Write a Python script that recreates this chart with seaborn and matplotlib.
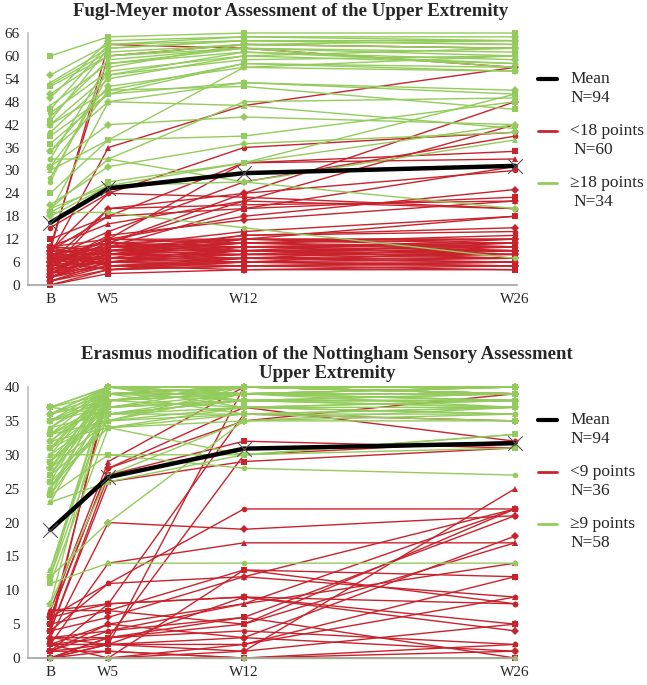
import matplotlib
matplotlib.use("Agg")
import matplotlib.pyplot as plt
from matplotlib.lines import Line2D
import pandas as pd
import seaborn as sns

# ----------------------------------------------------
# Data
# ----------------------------------------------------
TIMEPOINTS = ["B", "W5", "W12", "W26"]
WEEKS = [2, 5, 12, 26]

# Fugl-Meyer (0-66)
FM_MEAN = [16.3, 25.3, 29.3, 31.2]
FM_RED = [  # <18 points at baseline, N=60
    [10, 60, 63, 62], [9, 63, 62, 57], [8, 36, 47, 57], [15, 24, 36, 40],
    [9, 18, 32, 35], [6, 20, 24, 48], [10, 16, 22, 42], [7, 14, 27, 39],
    [12, 18, 20, 23], [6, 12, 18, 25], [4, 20, 21, 22], [9, 24, 23, 20],
    [3, 10, 14, 18], [2, 8, 13, 15], [5, 12, 32, 33], [8, 11, 24, 30],
    [7, 10, 20, 31], [5, 13, 17, 22], [4, 9, 12, 18], [3, 11, 22, 20],
    [0, 3, 4, 4], [1, 4, 5, 5], [2, 5, 5, 6], [3, 5, 6, 6],
    [4, 6, 6, 7], [5, 6, 7, 7], [6, 7, 7, 8], [7, 7, 8, 8],
    [8, 8, 8, 9], [9, 8, 9, 9], [10, 9, 9, 10], [2, 9, 10, 10],
    [3, 10, 10, 11], [4, 10, 11, 12], [5, 11, 12, 12], [6, 12, 11, 13],
    [7, 4, 5, 4], [8, 5, 4, 5], [9, 5, 6, 5], [10, 6, 5, 6],
    [1, 6, 8, 7], [2, 7, 6, 9], [3, 7, 9, 8], [4, 8, 7, 10],
    [5, 8, 10, 9], [6, 9, 8, 11], [7, 9, 11, 10], [8, 10, 9, 12],
    [9, 11, 10, 11], [10, 12, 12, 12], [0, 4, 6, 5], [1, 5, 7, 6],
    [2, 6, 9, 7], [3, 8, 11, 9], [4, 10, 12, 11], [5, 11, 9, 8],
    [6, 4, 7, 6], [7, 6, 10, 8], [8, 7, 12, 10], [9, 9, 13, 14],
]
FM_GREEN = [  # >=18 points at baseline, N=34
    [60, 65, 66, 66], [55, 63, 65, 64], [53, 62, 64, 63], [52.5, 61, 63, 62],
    [52, 60, 62, 61], [49, 64, 65, 65], [47, 58, 62, 60], [45, 56, 60, 58],
    [43, 62, 64, 63], [42, 55, 61, 59], [42, 51, 58, 57], [40, 54, 60, 62],
    [39, 50, 53, 50], [35, 52, 57, 56], [35, 48, 47, 41], [33, 33, 48, 49],
    [31, 51, 52, 46], [31, 42, 44, 42], [30, 38, 57, 60], [27, 57, 63, 64],
    [24, 38, 39, 48], [21, 31, 37, 40], [20, 33, 27, 38], [19, 19, 15, 7],
    [19, 27, 32, 50], [19, 48, 53, 51], [20, 26, 32, 42], [33, 58, 61, 58],
    [46, 63, 64, 64], [50, 60, 63, 62], [44, 59, 62, 57], [28, 55, 59, 60],
    [37, 50, 58, 56], [18, 26, 27, 20],
]

# Erasmus modified NSA (0-40)
EM_MEAN = [18.9, 26.7, 30.9, 31.7]
EM_RED = [  # <9 points at baseline, N=36
    [4, 40, 40, 40], [5, 39, 40, 39], [7, 29, 40, 40], [6, 28, 37, 32],
    [4, 27, 32, 31], [3, 20, 19, 21], [2, 14, 17, 17], [6, 11, 22, 22],
    [0, 2, 40, 39], [1, 8, 36, 35], [0, 3, 30, 32], [7, 8, 9, 8],
    [5, 7, 13, 12], [4, 6, 12, 22], [2, 5, 8, 22], [1, 4, 6, 21],
    [0, 3, 5, 22], [3, 2, 3, 18], [2, 0, 1, 25], [0, 0, 2, 9],
    [6, 8, 9, 5], [1, 2, 9, 4], [0, 1, 0, 2], [0, 0, 0, 1],
    [2, 3, 6, 0], [1, 5, 3, 1], [3, 4, 8, 14], [0, 2, 2, 12],
    [4, 26, 29, 31], [6, 28, 35, 39], [7, 7, 5, 17], [0, 0, 13, 8],
    [1, 1, 0, 0], [2, 2, 1, 5], [4, 11, 12, 9], [3, 3, 4, 2],
]
EM_GREEN = [  # >=9 points at baseline, N=58
    [37, 40, 40, 40], [37, 39, 40, 40], [36, 40, 40, 39], [36, 38, 39, 40],
    [35, 40, 39, 39], [35, 37, 38, 38], [34, 39, 40, 39], [34, 36, 38, 37],
    [33, 40, 39, 40], [33, 35, 37, 38], [32, 38, 40, 39], [32, 34, 36, 36],
    [31, 40, 38, 37], [31, 37, 39, 38], [30, 36, 37, 36], [30, 30, 28, 27],
    [29, 39, 40, 40], [28, 40, 38, 39], [28, 35, 39, 38], [27, 38, 37, 37],
    [27, 34, 35, 35], [26, 40, 40, 40], [25, 37, 38, 38], [25, 39, 39, 39],
    [24, 36, 36, 37], [24, 40, 40, 39], [23, 26, 30, 33], [23, 38, 40, 40],
    [37, 36, 39, 40], [36, 39, 38, 38], [35, 38, 40, 40], [34, 40, 37, 36],
    [33, 37, 38, 39], [32, 39, 39, 40], [31, 35, 36, 37], [30, 40, 40, 40],
    [29, 37, 40, 39], [28, 38, 39, 37], [13, 40, 40, 40], [13, 38, 39, 39],
    [12, 40, 39, 40], [12, 20, 35, 37], [12, 36, 38, 38], [11, 14, 14, 14],
    [11, 34, 37, 38], [8, 40, 40, 39], [8, 27, 35, 36], [0, 0, 0, 0],
    [26, 34, 30, 31], [37, 40, 39, 38], [35, 39, 36, 35], [33, 38, 40, 40],
    [31, 39, 39, 39], [29, 36, 38, 38], [27, 40, 40, 40], [25, 35, 40, 40],
    [24, 30, 30, 33], [36, 40, 40, 40],
]

RED = "#C8232C"
GREEN = "#93CC5C"
MARKERS = {"s": "s", "D": "D", "^": "^", "o": "o"}


def to_long(rows, group):
    keys = list(MARKERS)
    recs = []
    for i, r in enumerate(rows):
        for w, v in zip(WEEKS, r):
            recs.append({"subject": f"{group}{i}", "week": w, "score": v,
                         "mk": keys[i % len(keys)]})
    return pd.DataFrame(recs)


def draw_panel(ax, red, green, mean, ymax, ystep):
    for rows, name, col in [(red, "red", RED), (green, "green", GREEN)]:
        sns.lineplot(data=to_long(rows, name), x="week", y="score",
                     units="subject", estimator=None, style="mk",
                     markers=MARKERS, dashes=False, color=col, lw=1.0,
                     markersize=4.0, markeredgewidth=0, legend=False,
                     ax=ax, clip_on=False)
    mdf = pd.DataFrame({"week": WEEKS, "score": mean})
    sns.lineplot(data=mdf, x="week", y="score", color="black", lw=3.2,
                 ax=ax, legend=False, zorder=5, clip_on=False)
    ax.scatter(WEEKS, mean, marker="x", s=110, color="#555555",
               linewidths=0.8, zorder=6, clip_on=False)

    ax.set_xlim(0.85, 26.1)
    ax.set_ylim(0, ymax)
    ax.set_xticks(WEEKS, TIMEPOINTS)
    ax.set_yticks(range(0, ymax + 1, ystep))
    ax.set_xlabel("")
    ax.set_ylabel("")
    for s in ["top", "right"]:
        ax.spines[s].set_visible(False)
    ax.spines["left"].set_color("#BFBFBF")
    ax.spines["bottom"].set_color("#A6A6A6")
    ax.tick_params(axis="y", length=4, color="#BFBFBF", labelsize=11, pad=2)
    ax.tick_params(axis="x", length=0, labelsize=11, pad=6)


def legend_block(fig, entries, y0):
    # entries: (color, lw, line1, line2, indent)
    W, H = 647, 685
    y = y0
    for col, lw, l1, l2, ind in entries:
        fig.add_artist(Line2D([538 / W, 557 / W], [1 - y / H, 1 - y / H],
                              color=col, lw=lw))
        fig.text(570 / W, 1 - y / H, l1, ha="left", va="center", fontsize=12.5)
        fig.text((570 + ind) / W, 1 - (y + 19) / H, l2, ha="left", va="center",
                 fontsize=12.5)
        y += 52


def main():
    sns.set_theme(style="white")
    plt.rcParams["font.family"] = ["Liberation Serif", "DejaVu Serif"]

    fig = plt.figure(figsize=(6.47, 6.85), dpi=100)
    W, H = 647, 685

    ax1 = fig.add_axes([28 / W, 1 - 285 / H, (517 - 28) / W, (285 - 33) / H])
    draw_panel(ax1, FM_RED, FM_GREEN, FM_MEAN, 66, 6)
    fig.text(291 / W, 1 - 12 / H,
             "Fugl-Meyer motor Assessment of the Upper Extremity",
             ha="center", va="center", fontsize=13.5, fontweight="bold")
    legend_block(fig, [("black", 3.0, "Mean", "N=94", 0),
                       (RED, 2.0, "<18 points", "N=60", 3),
                       (GREEN, 2.0, "\u226518 points", "N=34", 3)], 79)

    ax2 = fig.add_axes([28 / W, 1 - 658 / H, (517 - 28) / W, (658 - 387) / H])
    draw_panel(ax2, EM_RED, EM_GREEN, EM_MEAN, 40, 5)
    fig.text(327 / W, 1 - 364 / H,
             "Erasmus modification of the Nottingham Sensory Assessment\nUpper Extremity",
             ha="center", va="center", fontsize=13.5, fontweight="bold",
             linespacing=1.1)
    legend_block(fig, [("black", 3.0, "Mean", "N=94", 0),
                       (RED, 2.0, "<9 points", "N=36", 0),
                       (GREEN, 2.0, "\u22659 points", "N=58", 0)], 420)

    fig.savefig("out.png", dpi=100)
    plt.close(fig)


if __name__ == "__main__":
    main()
